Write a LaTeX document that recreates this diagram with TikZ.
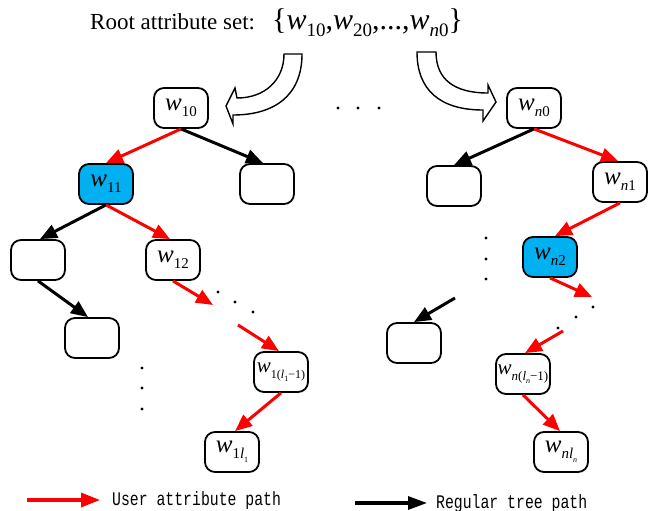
\documentclass[tikz,border=0pt]{standalone}
\usepackage{fontspec}
\setmainfont{Liberation Serif}
\setmonofont{Liberation Mono}
\usetikzlibrary{arrows.meta}
\definecolor{pathred}{RGB}{255,0,0}
\definecolor{hilite}{RGB}{0,176,240}

% italic w with an upright subscript
\newcommand\wsub[1]{\textit{w}\raisebox{-0.25em}{\fontsize{15}{15}\selectfont #1}}
\newcommand\wbig[1]{\textit{w}\raisebox{-0.22em}{\fontsize{19}{19}\selectfont #1}}
\newcommand\lsub[1]{\textit{l}\raisebox{-0.25em}{\fontsize{8}{8}\selectfont #1}}
% tall monospaced legend text
\newcommand\legtext[1]{\scalebox{1}[1.3]{#1}}

\begin{document}
\begin{tikzpicture}[x=1pt,y=-1pt,
  tnode/.style={draw=black, line width=1.8pt, rounded corners=10pt,
    minimum width=54pt, minimum height=40pt, inner sep=0pt, fill=white,
    font=\fontsize{25}{25}\selectfont},
  hinode/.style={tnode, fill=hilite},
  userpath/.style={draw=pathred, line width=3pt, -{Triangle[length=17pt,width=14pt]}},
  treepath/.style={draw=black, line width=3pt, -{Triangle[length=17pt,width=14pt]}},
  dot/.style={circle, fill=black, inner sep=0pt, minimum size=3.2pt},
  blockarrow/.style={draw=black, line width=1.4pt, fill=white, line join=miter},
  legendfont/.style={anchor=base west, inner sep=0pt, font=\ttfamily\fontsize{14.8}{14.8}\selectfont},
]
\useasboundingbox (0,0) rectangle (661,511);

% heading
\node[anchor=base west, inner sep=0pt, font=\fontsize{23}{23}\selectfont] (title) at (90,30) {Root attribute set:};
\node[anchor=base west, inner sep=0pt, font=\fontsize{30}{30}\selectfont] (rootset) at (272,30)
  {\{\wbig{10},\wbig{20},...,\wbig{\textit{n}0}\}};

% curved block arrows from the root set
\draw[blockarrow] (284,54) -- (302,54) .. controls (302,95) and (275,115) .. (233,115)
  -- (233,124) -- (226,106) -- (235,88) -- (237,98)
  .. controls (265,98) and (284,80) .. (284,54) -- cycle;
\draw[blockarrow] (417,52) -- (436,52) .. controls (436,80) and (455,93) .. (488,93)
  -- (488,85) -- (496,102) -- (483,121) -- (483,110)
  .. controls (440,110) and (417,90) .. (417,52) -- cycle;

% first tree
\node[tnode] (w10) at (181,108) {\wsub{10}};
\node[tnode] (r1) at (267,184) {};
\node[hinode] (w11) at (106,184) {\wsub{11}};
\node[tnode] (l2) at (38,260) {};
\node[tnode] (w12) at (173,260) {\wsub{12}};
\node[tnode] (l3) at (92,338) {};
\node[tnode, font=\fontsize{21}{21}\selectfont] (w1a) at (281,372)
  {\textit{w}\raisebox{-0.3em}{\fontsize{12}{12}\selectfont 1(\lsub{1}−1)}};
\node[tnode] (w1b) at (232,452) {\textit{w}\raisebox{-0.25em}{\fontsize{15}{15}\selectfont 1\lsub{1}}};

\coordinate (c1) at (213,305);
\coordinate (c2) at (238,325);

\draw[userpath] (w10.south) -- (w11.north);
\draw[treepath] (w10.south) -- ([xshift=-4pt]r1.north);
\draw[treepath] (w11.south) -- ([xshift=2pt]l2.north);
\draw[userpath] (w11.south) -- ([xshift=-3pt]w12.north);
\draw[treepath] (l2.south) -- ([xshift=-4pt]l3.north);
\draw[userpath] (w12.south) -- (c1);
\draw[userpath] (c2) -- ([xshift=-2pt]w1a.north);
\draw[userpath] (w1a.south) -- ([xshift=3pt]w1b.north);

% second tree
\node[tnode] (wn0) at (534,108) {\wsub{\textit{n}0}};
\node[tnode] (rn1) at (454,186) {};
\node[tnode] (wn1) at (620,182) {\wsub{\textit{n}1}};
\node[hinode] (wn2) at (550,257) {\wsub{\textit{n}2}};
\node[tnode] (rn2) at (414,343) {};
\node[tnode, font=\fontsize{21}{21}\selectfont] (wna) at (523,374)
  {\textit{w}\raisebox{-0.3em}{\fontsize{13}{13}\selectfont\textit{n}(\lsub{\textit{n}}−1)}};
\node[tnode] (wnb) at (561,452) {\textit{w}\raisebox{-0.25em}{\fontsize{15}{15}\selectfont\textit{n}\lsub{\textit{n}}}};

\coordinate (c3) at (592,297);
\coordinate (c4) at (455,298);
\coordinate (c5) at (563,331);

\draw[treepath] (wn0.south) -- (rn1.north);
\draw[userpath] (wn0.south) -- ([xshift=-2pt]wn1.north);
\draw[userpath] (wn1.south) -- ([xshift=5pt]wn2.north);
\draw[userpath] (wn2.south) -- (c3);
\draw[treepath] (c4) -- (rn2.north);
\draw[userpath] (c5) -- ([xshift=2pt]wna.north);
\draw[userpath] (wna.south) -- ([xshift=-1pt]wnb.north);

% ellipsis dots
\foreach \p [count=\i] in {(338,108),(358,108),(379,108),
    (142,368),(142,388),(142,409),
    (218,292),(235,302),(253,312),
    (486,238),(486,259),(486,279),
    (593,307),(576,317),(558,328)}
  \node[dot] (dot\i) at \p {};

% legend
\coordinate (lu1) at (27,500);
\coordinate (lu2) at (100,500);
\coordinate (lr1) at (355,503);
\coordinate (lr2) at (427,503);
\draw[draw=pathred, line width=3.2pt, -{Triangle[length=19pt,width=14pt]}] (lu1) -- (lu2);
\draw[draw=black, line width=3.2pt, -{Triangle[length=19pt,width=13pt]}] (lr1) -- (lr2);
\node[legendfont] (lutext) at (112,505) {\legtext{User attribute path}};
\node[legendfont] (lrtext) at (436,508) {\legtext{Regular tree path}};
\end{tikzpicture}
\end{document}
